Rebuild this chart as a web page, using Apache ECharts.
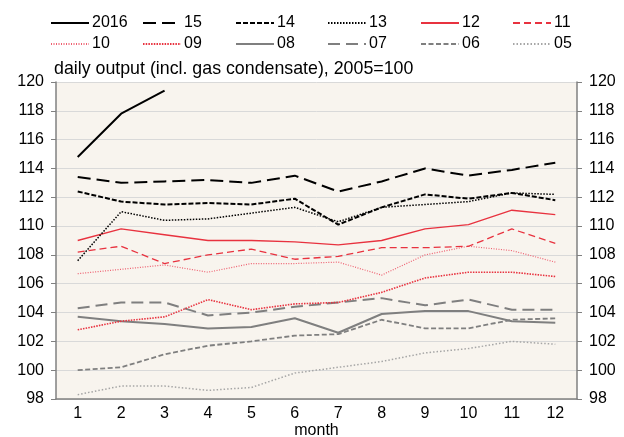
<!DOCTYPE html>
<html><head><meta charset="utf-8">
<script src="https://cdn.jsdelivr.net/npm/echarts@6/dist/echarts.min.js"></script>
<style>html,body{margin:0;padding:0;background:#fff}#c{width:624px;height:437px}</style>
</head><body><div id="c"></div>
<script>
const months = ['1','2','3','4','5','6','7','8','9','10','11','12'];
const yTicks = [98,100,102,104,106,108,110,112,114,116,118,120];
const s2016 = [114.8,117.8,119.4];
const s15 = [113.4,113.0,113.1,113.2,113.0,113.5,112.4,113.1,114.0,113.5,113.9,114.4];
const s14 = [112.4,111.7,111.5,111.6,111.5,111.9,110.1,111.3,112.2,111.9,112.3,111.8];
const s13 = [107.6,111.0,110.4,110.5,110.9,111.3,110.3,111.3,111.5,111.7,112.3,112.2];
const s12 = [109.0,109.8,109.4,109.0,109.0,108.9,108.7,109.0,109.8,110.1,111.1,110.8];
const s11 = [108.2,108.6,107.4,108.0,108.4,107.7,107.9,108.5,108.5,108.6,109.8,108.8];
const s10 = [106.7,107.0,107.3,106.8,107.4,107.4,107.5,106.6,108.0,108.6,108.3,107.5];
const s09 = [102.8,103.4,103.7,104.9,104.2,104.6,104.7,105.4,106.4,106.8,106.8,106.5];
const s08 = [103.7,103.4,103.2,102.9,103.0,103.6,102.6,103.9,104.1,104.1,103.4,103.3];
const s07 = [104.3,104.7,104.7,103.8,104.0,104.4,104.7,105.0,104.5,104.9,104.2,104.2];
const s06 = [100.0,100.2,101.1,101.7,102.0,102.4,102.5,103.5,102.9,102.9,103.5,103.6];
const s05 = [98.3,98.9,98.9,98.6,98.8,99.8,100.2,100.6,101.2,101.5,102.0,101.8];

const names = ['2016','15','14','13','12','11','10','09','08','07','06','05'];
const datas = [s2016,s15,s14,s13,s12,s11,s10,s09,s08,s07,s06,s05];
const RED = '#e8323f', GRAY = '#7f7f7f';
const styles = [
  {color:'#000', width:2, type:'solid'},
  {color:'#000', width:2, type:[13,6]},
  {color:'#000', width:2, type:[5,2]},
  {color:'#000', width:1.5, type:[1.5,1.5]},
  {color:RED, width:1.3, type:'solid'},
  {color:RED, width:1.3, type:[7,4]},
  {color:'#ee6070', width:1.2, type:[1,1.5]},
  {color:RED, width:1.6, type:[1.5,1.2]},
  {color:GRAY, width:2, type:'solid'},
  {color:GRAY, width:2, type:[12,6]},
  {color:GRAY, width:1.8, type:[5,2.5]},
  {color:'#a6a6a6', width:1.5, type:[1.5,2]}
];
const FONT = 'Liberation Sans, Arial, sans-serif';
const colX = [50,142,235,327,420,512];
const legends = names.map((n,i)=>({
  data:[n], left: colX[i%6], top: i<6 ? 15 : 36, padding:0,
  itemWidth:38, itemHeight:14, itemGap:0,
  itemStyle:{opacity:0},
  textStyle:{fontSize:16, color:'#000', fontFamily:FONT, padding:[0,0,0,-2]},
  selectedMode:false
}));
const series = names.map((n,i)=>({
  name:n, type:'line', data:datas[i], yAxisIndex:0, symbol:'none', silent:true,
  lineStyle:{color:styles[i].color, width:styles[i].width, type:styles[i].type},
  itemStyle:{color:styles[i].color},
  z: 20 - i
}));
const axisLabelStyle = {fontSize:16, color:'#000', fontFamily:FONT};
const chart = echarts.init(document.getElementById('c'), null, {renderer:'canvas'});
chart.setOption({
  animation:false,
  backgroundColor:'#fff',
  title:{text:'daily output (incl. gas condensate), 2005=100', left:54, top:60, padding:0,
    textStyle:{fontSize:17.8, fontWeight:'normal', color:'#000', fontFamily:FONT}},
  legend: legends,
  grid:{left:56, right:47, top:82, bottom:38, show:true, backgroundColor:'#f8f4ee', borderWidth:0,
    outerBoundsMode:'none', containLabel:false},
  xAxis:{type:'category', data:months, boundaryGap:true,
    name:'month', nameLocation:'middle', nameGap:24, nameMoveOverlap:false,
    nameTextStyle:{fontSize:16, color:'#000', fontFamily:FONT, lineHeight:16},
    axisLine:{lineStyle:{color:'#808080', width:1.5}}, axisTick:{show:false},
    axisLabel:Object.assign({margin:7}, axisLabelStyle)},
  yAxis:[
    {type:'value', min:yTicks[0], max:yTicks[yTicks.length-1], interval:2, position:'left',
     axisLine:{show:true, lineStyle:{color:'#808080', width:1.5}},
     axisTick:{show:true, length:5, lineStyle:{color:'#808080'}},
     splitLine:{show:true, lineStyle:{color:'#d9d9d9', width:1}},
     axisLabel:Object.assign({margin:12}, axisLabelStyle)},
    {type:'value', min:yTicks[0], max:yTicks[yTicks.length-1], interval:2, position:'right',
     axisLine:{show:true, lineStyle:{color:'#808080', width:1.5}},
     axisTick:{show:true, length:5, lineStyle:{color:'#808080'}},
     splitLine:{show:false},
     axisLabel:Object.assign({margin:12}, axisLabelStyle)}
  ],
  series: series
});
</script></body></html>
